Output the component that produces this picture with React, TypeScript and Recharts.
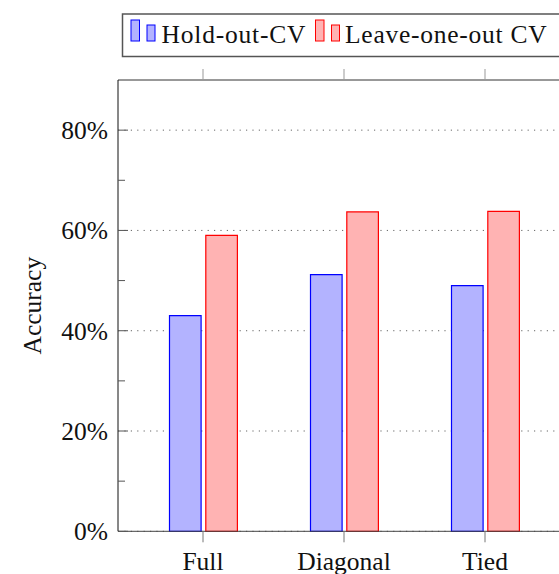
import React from 'react';
import { BarChart, Bar, XAxis, YAxis, CartesianGrid } from 'recharts';

const categories = ['Full', 'Diagonal', 'Tied'];
const holdOut = [43.0, 51.2, 49.0];
const leaveOneOut = [59.0, 63.7, 63.8];
const yTicks = [0, 10, 20, 30, 40, 50, 60, 70, 80];
const gridValues = [0, 20, 40, 60, 80];
const seriesNames = ['Hold-out-CV', 'Leave-one-out CV'];

const FONT = '"Liberation Serif", "Times New Roman", serif';
const BLUE = '#0000ff';
const BLUE_FILL = '#b3b3ff';
const RED = '#ff0000';
const RED_FILL = '#ffb3b3';

const data = categories.map((name, i) => ({
  name,
  holdOut: holdOut[i],
  leaveOneOut: leaveOneOut[i],
}));

const YTick = (props: any) => {
  const { x, y, payload } = props;
  const major = payload.value % 20 === 0;
  return (
    <g>
      <line x1={x} x2={x + (major ? 10 : 7)} y1={y} y2={y} stroke="#555" strokeWidth={1} />
      {major && (
        <text x={x - 10} y={y} dy="0.35em" textAnchor="end" fontFamily={FONT} fontSize={25.5} fill="#111">
          {`${payload.value}%`}
        </text>
      )}
    </g>
  );
};

const XTick = (props: any) => {
  const { x, y, payload } = props;
  return (
    <text x={x} y={y} dy={27.5} textAnchor="middle" fontFamily={FONT} fontSize={25.5} fill="#111">
      {payload.value}
    </text>
  );
};

const EmptyTick = () => <g />;

const YLabel = (props: any) => {
  const { viewBox } = props;
  const cx = viewBox.x + 41;
  const cy = viewBox.y + viewBox.height / 2;
  return (
    <text x={cx} y={cy} transform={`rotate(-90 ${cx} ${cy})`} textAnchor="middle" fontFamily={FONT} fontSize={25.5} fill="#111">
      Accuracy
    </text>
  );
};

const LegendBox = () => (
  <svg width={600} height={60} style={{ position: 'absolute', left: 0, top: 0 }}>
    <rect x={122.5} y={14} width={443} height={42.5} fill="#fff" stroke="#555" strokeWidth={1.5} />
    <rect x={131} y={20} width={8.5} height={21} fill={BLUE_FILL} stroke={BLUE} strokeWidth={1} />
    <rect x={147} y={25} width={8} height={16} fill={BLUE_FILL} stroke={BLUE} strokeWidth={1} />
    <text x={161.5} y={43} fontFamily={FONT} fontSize={25.5} letterSpacing={0.8} fill="#111">
      {seriesNames[0]}
    </text>
    <rect x={315.5} y={20} width={8.5} height={21} fill={RED_FILL} stroke={RED} strokeWidth={1} />
    <rect x={331.5} y={25} width={8} height={16} fill={RED_FILL} stroke={RED} strokeWidth={1} />
    <text x={345} y={43} fontFamily={FONT} fontSize={25.5} letterSpacing={0.75} fill="#111">
      {seriesNames[1]}
    </text>
  </svg>
);

export default function App() {
  return (
    <div style={{ position: 'absolute', left: 0, top: 0, width: 559, height: 574, overflow: 'hidden', background: '#fff' }}>
      <BarChart
        width={620}
        height={574}
        data={data}
        margin={{ top: 69, right: 50, bottom: 0, left: 0 }}
        barGap={4.7}
      >
        <CartesianGrid
          vertical={false}
          horizontalValues={gridValues}
          stroke="#666"
          strokeDasharray="1.2 5.2"
        />
        <XAxis
          dataKey="name"
          height={42.7}
          padding={{ left: 14.5, right: 14.5 }}
          tickSize={11}
          tickMargin={0}
          tickLine={{ stroke: '#777' }}
          axisLine={{ stroke: '#444' }}
          tick={XTick}
          interval={0}
        />
        <XAxis
          xAxisId="top"
          orientation="top"
          dataKey="name"
          height={11}
          padding={{ left: 14.5, right: 14.5 }}
          tickSize={11}
          tickMargin={0}
          tickLine={{ stroke: '#999' }}
          axisLine={{ stroke: '#333' }}
          tick={EmptyTick}
          interval={0}
        />
        <YAxis
          width={118}
          domain={[0, 90]}
          ticks={yTicks}
          interval={0}
          tickSize={0}
          tickMargin={0}
          tickLine={false}
          axisLine={{ stroke: '#111' }}
          tick={YTick}
          label={<YLabel />}
        />
        <Bar
          dataKey="holdOut"
          name={seriesNames[0]}
          fill={BLUE_FILL}
          stroke={BLUE}
          strokeWidth={1.2}
          barSize={31.6}
          isAnimationActive={false}
        />
        <Bar
          dataKey="leaveOneOut"
          name={seriesNames[1]}
          fill={RED_FILL}
          stroke={RED}
          strokeWidth={1.2}
          barSize={31.6}
          isAnimationActive={false}
        />
      </BarChart>
      <LegendBox />
    </div>
  );
}
